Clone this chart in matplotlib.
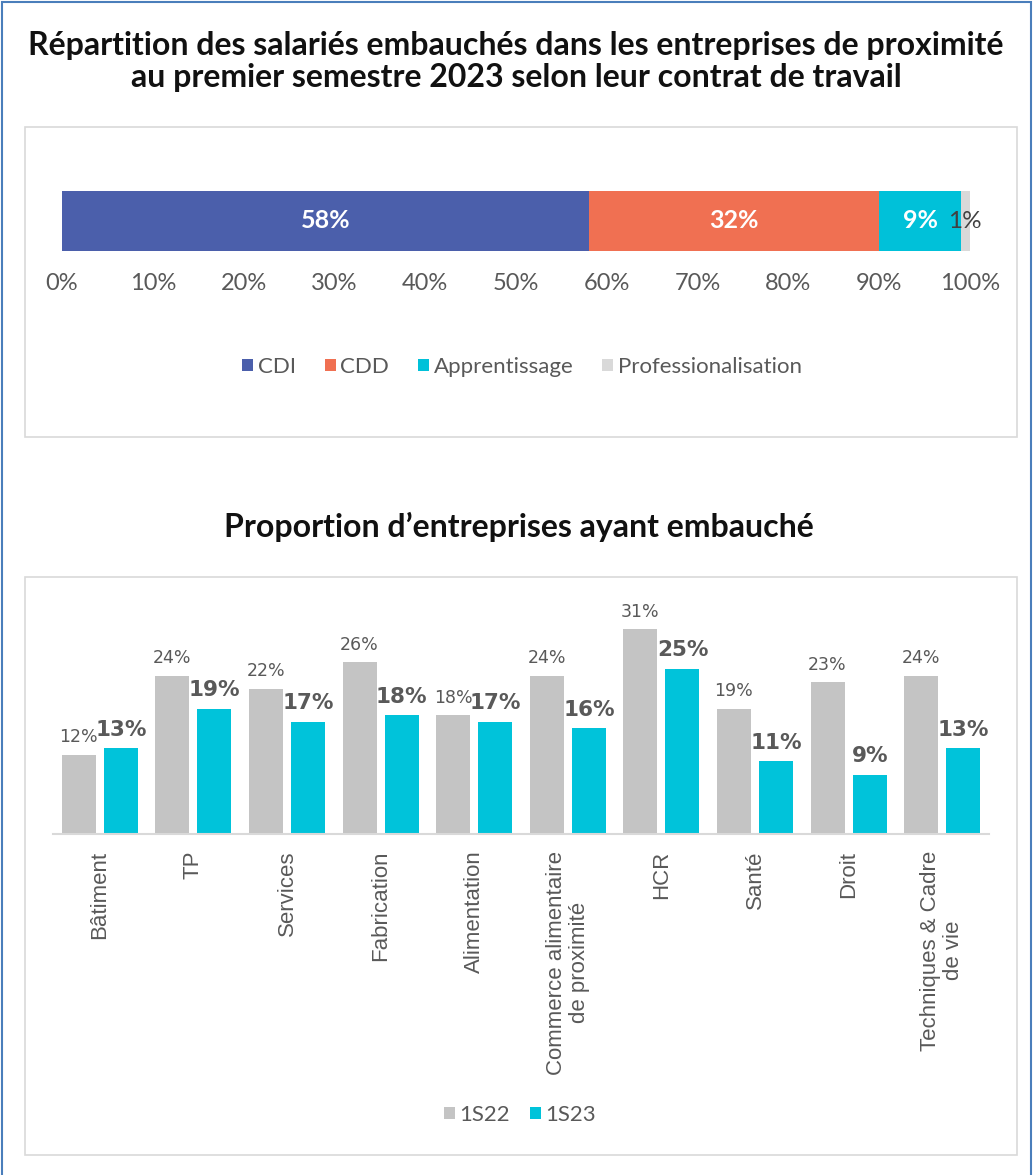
import matplotlib
matplotlib.use("Agg")
import matplotlib.pyplot as plt
from matplotlib.patches import Rectangle

W, H = 1033, 1175

# ---- data ----
contract_types = ["CDI", "CDD", "Apprentissage", "Professionalisation"]
contract_shares = [58, 32, 9, 1]
contract_colors = ["#4B5FAB", "#F07052", "#00C1D9", "#D9D9D9"]
contract_label_colors = ["white", "white", "white", "#404040"]

sectors = ["Bâtiment", "TP", "Services", "Fabrication", "Alimentation",
           "Commerce alimentaire\nde proximité", "HCR", "Santé", "Droit",
           "Techniques & Cadre\nde vie"]
s1s22 = [12, 24, 22, 26, 18, 24, 31, 19, 23, 24]
s1s23 = [13, 19, 17, 18, 17, 16, 25, 11, 9, 13]
series_names = ["1S22", "1S23"]

x_ticks_top = list(range(0, 101, 10))

title1_lines = ["Répartition des salariés embauchés dans les entreprises de proximité",
                "au premier semestre 2023 selon leur contrat de travail"]
title2 = "Proportion d’entreprises ayant embauché"

def rect(x0, y0, x1, y1):
    return [x0 / W, 1 - y1 / H, (x1 - x0) / W, (y1 - y0) / H]

fig = plt.figure(figsize=(W / 100, H / 100), dpi=100)
fig.patch.set_facecolor("white")

# outer blue border
fig.add_artist(Rectangle((1.5 / W, -0.01), (W - 4) / W, 1 - 1.5 / H + 0.01,
                         transform=fig.transFigure, fill=False,
                         edgecolor="#4A7EBB", linewidth=1.5))
# chart boxes
fig.add_artist(Rectangle((25 / W, 1 - 437 / H), (1017 - 25) / W, (437 - 127) / H,
                         transform=fig.transFigure, fill=False,
                         edgecolor="#D9D9D9", linewidth=1.2))
fig.add_artist(Rectangle((25 / W, 1 - 1155 / H), (1017 - 25) / W, (1155 - 577) / H,
                         transform=fig.transFigure, fill=False,
                         edgecolor="#D9D9D9", linewidth=1.2))

# titles
for yy, line in zip([45, 78], title1_lines):
    fig.text(516 / W, 1 - yy / H, line, ha="center", va="center",
             fontsize=23, fontweight="bold", family="Lato", color="#111111")
fig.text(519 / W, 1 - 527 / H, title2, ha="center", va="center",
         fontsize=23, fontweight="bold", family="Lato", color="#111111")

# ---- top stacked bar ----
ax1 = fig.add_axes(rect(62, 191, 970, 251))
left = 0
for name, val, col, lc in zip(contract_types, contract_shares, contract_colors, contract_label_colors):
    ax1.barh(0, val, left=left, height=1.0, color=col, label=name, edgecolor="none")
    if name == "Professionalisation":
        ax1.text(left + val / 2 - 0.1, 0, f"{val}%", ha="center", va="center",
                 color=lc, fontsize=17.5, family="Lato")
    else:
        ax1.text(left + val / 2, 0, f"{val}%", ha="center", va="center",
                 color=lc, fontsize=18, fontweight="bold", family="Lato")
    left += val
ax1.set_xlim(0, 100)
ax1.set_ylim(-0.5, 0.5)
ax1.set_xticks(x_ticks_top)
ax1.set_xticklabels([f"{t}%" for t in x_ticks_top], family="Lato",
                    fontsize=17, color="#595959")
ax1.tick_params(axis="x", length=0, pad=16)
ax1.set_yticks([])
for s in ax1.spines.values():
    s.set_visible(False)
h1, l1 = ax1.get_legend_handles_labels()
fig.legend(h1, l1, loc="center", bbox_to_anchor=(522 / W, 1 - 367 / H), ncol=4,
           frameon=False, handlelength=0.5, handleheight=0.5, handletextpad=0.2,
           columnspacing=1.3, prop={"family": "Lato", "size": 16},
           labelcolor="#595959")

# ---- bottom grouped bars ----
ax2 = fig.add_axes(rect(53, 603, 989, 834))
xs = list(range(len(sectors)))
bw = 0.364
off = 0.225
ax2.bar([x - off for x in xs], s1s22, width=bw, color="#C4C4C4", label=series_names[0])
ax2.bar([x + off for x in xs], s1s23, width=bw, color="#00C3DA", label=series_names[1])
for x, v in zip(xs, s1s22):
    ax2.text(x - off, v + 1.3, f"{v}%", ha="center", va="bottom",
             fontsize=12.5, color="#595959", family="DejaVu Sans")
for x, v in zip(xs, s1s23):
    ax2.text(x + off, v + 1.3, f"{v}%", ha="center", va="bottom",
             fontsize=15.5, fontweight="bold", color="#595959", family="DejaVu Sans")
ax2.set_xlim(-0.5, len(sectors) - 0.5)
ax2.set_ylim(0, 35)
ax2.set_yticks([])
ax2.set_xticks(xs)
ax2.set_xticklabels(sectors, rotation=90, family="Liberation Sans", fontsize=16,
                    color="#595959", ha="center", va="top", multialignment="center",
                    linespacing=1.1)
ax2.tick_params(axis="x", length=0, pad=12)
for k in ["top", "left", "right"]:
    ax2.spines[k].set_visible(False)
ax2.spines["bottom"].set_color("#D9D9D9")
ax2.spines["bottom"].set_linewidth(1.5)
h2, l2 = ax2.get_legend_handles_labels()
fig.legend(h2, l2, loc="center", bbox_to_anchor=(520 / W, 1 - 1115 / H), ncol=2,
           frameon=False, handlelength=0.5, handleheight=0.5, handletextpad=0.2,
           columnspacing=0.9, prop={"family": "Lato", "size": 16},
           labelcolor="#595959")

fig.savefig("out.png", dpi=100, facecolor="white")
